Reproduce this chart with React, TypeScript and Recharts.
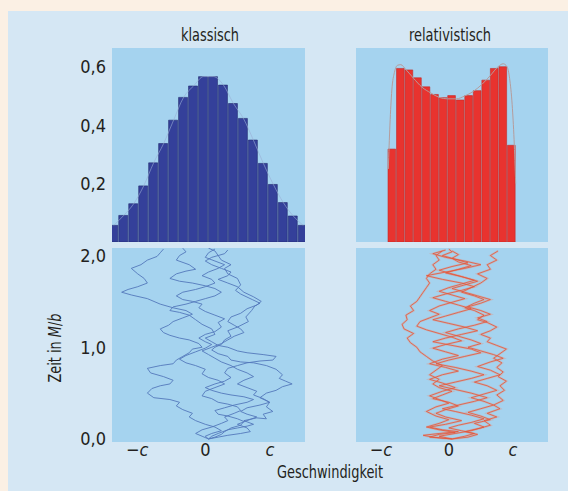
import React from 'react';
import {
  ComposedChart,
  ScatterChart,
  Scatter,
  Bar,
  Line,
  XAxis,
  YAxis,
  CartesianGrid,
} from 'recharts';

const FONT = "'Liberation Sans Narrow', 'DejaVu Sans Condensed', 'Roboto', sans-serif";
const PAGE_BG = '#fbf0e4';
const PANEL_BG = '#d5e7f4';
const PLOT_BG = '#a5d3ef';
const TEXT = '#231f20';

// histogram heights
const classicBinWidth = 0.155;
const classicHeights = [
  0.057, 0.091, 0.131, 0.192, 0.271, 0.337, 0.417, 0.495, 0.534, 0.566,
  0.566, 0.537, 0.474, 0.423, 0.349, 0.269, 0.197, 0.135, 0.089, 0.057,
];
const relBinWidth = 2 / 15;
const relHeights = [
  0.318, 0.594, 0.589, 0.562, 0.531, 0.505, 0.494, 0.501, 0.486, 0.501,
  0.518, 0.554, 0.594, 0.6, 0.331,
];
// thin theory curve over the red histogram
const relCurveX = [
  -0.995, -0.97, -0.94, -0.9, -0.85, -0.8, -0.72, -0.6, -0.47, -0.33, -0.2, -0.07,
  0.07, 0.2, 0.33, 0.47, 0.6, 0.72, 0.8, 0.86, 0.9, 0.94, 0.97, 0.995,
];
const relCurveY = [
  0.25, 0.4, 0.52, 0.58, 0.605, 0.607, 0.59, 0.56, 0.53, 0.51, 0.495, 0.49,
  0.49, 0.5, 0.515, 0.54, 0.57, 0.6, 0.61, 0.6, 0.56, 0.47, 0.35, 0.2,
];

const histTicks = [0.2, 0.4, 0.6];
const timeTicks = [0, 1, 2];
const speedTicks = [-1, 0, 1];

// random walks [velocity in c, time in M/b]
const walkB1: [number, number][] = [
  [0, 0], [0.05, 0.03], [0.15, 0.06], [0.3, 0.1], [0.45, 0.12], [0.6, 0.14], [0.7, 0.16], [0.55, 0.2],
  [0.75, 0.23], [0.9, 0.22], [0.85, 0.27], [1.0, 0.3], [0.9, 0.35], [0.95, 0.4], [0.8, 0.45], [0.9, 0.5],
  [1.05, 0.53], [1.15, 0.57], [1.3, 0.6], [1.2, 0.63], [1.1, 0.66], [1.15, 0.7], [1.05, 0.76], [0.9, 0.8],
  [0.7, 0.83], [0.5, 0.84], [0.35, 0.86], [0.3, 0.9], [0.15, 0.93], [0.05, 0.97], [0.1, 1.0], [0.2, 1.03],
  [0.25, 1.08], [0.35, 1.12], [0.3, 1.18], [0.45, 1.22], [0.62, 1.28], [0.58, 1.33], [0.67, 1.4], [0.72, 1.45],
  [0.8, 1.48], [0.68, 1.52], [0.5, 1.58], [0.42, 1.62], [0.5, 1.68], [0.45, 1.75], [0.3, 1.8], [0.25, 1.86],
  [0.35, 1.9], [0.2, 1.95], [0.15, 2.0], [0.1, 2.05], [0.0, 2.08],
];
const walkB2: [number, number][] = [
  [0, 0], [-0.05, 0.03], [0.05, 0.06], [0.2, 0.09], [0.1, 0.13], [-0.05, 0.16], [-0.2, 0.2], [-0.3, 0.24],
  [-0.25, 0.28], [-0.4, 0.32], [-0.5, 0.36], [-0.45, 0.4], [-0.6, 0.43], [-0.85, 0.45], [-0.95, 0.5], [-0.88, 0.55],
  [-0.75, 0.58], [-0.6, 0.6], [-0.55, 0.64], [-0.7, 0.68], [-0.9, 0.72], [-0.95, 0.77], [-0.75, 0.8], [-0.55, 0.82],
  [-0.5, 0.86], [-0.4, 0.9], [-0.3, 0.94], [-0.25, 0.98], [-0.1, 1.0], [-0.15, 1.04], [-0.3, 1.08], [-0.45, 1.1],
  [-0.6, 1.13], [-0.7, 1.16], [-0.75, 1.2], [-0.62, 1.24], [-0.55, 1.28], [-0.4, 1.32], [-0.25, 1.36], [-0.35, 1.4],
  [-0.55, 1.43], [-0.75, 1.47], [-0.95, 1.53], [-1.2, 1.57], [-1.35, 1.6], [-1.25, 1.63], [-1.1, 1.66], [-0.95, 1.7],
  [-1.0, 1.75], [-1.1, 1.8], [-1.2, 1.86], [-1.05, 1.9], [-0.95, 1.95], [-0.8, 1.99], [-0.75, 2.03], [-0.7, 2.07],
];
const walkB3: [number, number][] = [
  [0, 0], [0.1, 0.02], [0.2, 0.05], [0.25, 0.08], [0.35, 0.12], [0.5, 0.15], [0.55, 0.19], [0.45, 0.22],
  [0.3, 0.25], [0.15, 0.27], [0.1, 0.31], [0.25, 0.34], [0.4, 0.37], [0.6, 0.4], [0.7, 0.43], [0.55, 0.46],
  [0.35, 0.48], [0.2, 0.5], [0.05, 0.53], [-0.05, 0.56], [0.1, 0.6], [0.25, 0.63], [0.35, 0.67], [0.25, 0.72],
  [0.3, 0.77], [0.45, 0.8], [0.6, 0.83], [0.8, 0.85], [1.0, 0.86], [1.05, 0.9], [0.85, 0.92], [0.6, 0.94],
  [0.45, 0.96], [0.3, 1.0], [0.15, 1.02], [0.05, 1.06], [-0.05, 1.1], [0.1, 1.14], [0.05, 1.2], [-0.1, 1.25],
  [-0.2, 1.3], [-0.3, 1.35], [-0.45, 1.38], [-0.6, 1.4], [-0.55, 1.44], [-0.35, 1.47], [-0.2, 1.5], [-0.05, 1.53],
  [0.1, 1.56], [0.2, 1.6], [0.1, 1.64], [-0.05, 1.67], [-0.25, 1.7], [-0.45, 1.72], [-0.6, 1.75], [-0.5, 1.8],
  [-0.35, 1.83], [-0.2, 1.85], [-0.3, 1.9], [-0.5, 1.95], [-0.45, 2.0], [-0.35, 2.04], [-0.4, 2.08],
];
const walkB4: [number, number][] = [
  [0, 0], [-0.1, 0.03], [-0.2, 0.06], [-0.1, 0.1], [0.05, 0.13], [0.2, 0.17], [0.3, 0.2], [0.25, 0.24],
  [0.4, 0.28], [0.5, 0.31], [0.45, 0.35], [0.3, 0.38], [0.15, 0.4], [0.05, 0.44], [-0.1, 0.47], [-0.05, 0.52],
  [0.1, 0.56], [0.25, 0.6], [0.15, 0.64], [0.0, 0.67], [-0.1, 0.71], [-0.05, 0.76], [-0.2, 0.8], [-0.35, 0.83],
  [-0.45, 0.87], [-0.35, 0.91], [-0.2, 0.95], [-0.05, 0.99], [0.05, 1.03], [-0.05, 1.06], [-0.15, 1.1], [-0.05, 1.14],
  [0.1, 1.17], [0.2, 1.22], [0.15, 1.27], [0.25, 1.31], [0.1, 1.35], [-0.05, 1.39], [-0.15, 1.43], [-0.1, 1.47],
  [-0.25, 1.5], [-0.4, 1.52], [-0.5, 1.56], [-0.4, 1.6], [-0.2, 1.63], [-0.05, 1.66], [0.1, 1.7], [0.05, 1.74],
  [-0.1, 1.78], [0.0, 1.82], [0.15, 1.86], [0.25, 1.9], [0.1, 1.94], [-0.05, 1.98], [0.0, 2.03], [0.1, 2.07],
];
const walkB5: [number, number][] = [
  [0, 0], [0.15, 0.02], [0.3, 0.04], [0.5, 0.06], [0.65, 0.08], [0.6, 0.12], [0.45, 0.16], [0.6, 0.2],
  [0.75, 0.24], [0.6, 0.27], [0.5, 0.3], [0.6, 0.34], [0.8, 0.37], [0.95, 0.4], [0.85, 0.44], [0.7, 0.48],
  [0.75, 0.52], [0.6, 0.56], [0.45, 0.6], [0.55, 0.64], [0.7, 0.68], [0.6, 0.72], [0.45, 0.76], [0.35, 0.8],
  [0.2, 0.84], [0.1, 0.88], [0.0, 0.92], [-0.1, 0.96], [0.05, 1.0], [0.2, 1.04], [0.3, 1.08], [0.4, 1.12],
  [0.55, 1.16], [0.5, 1.2], [0.4, 1.24], [0.3, 1.28], [0.35, 1.33], [0.5, 1.37], [0.6, 1.42], [0.75, 1.46],
  [0.82, 1.5], [0.7, 1.55], [0.55, 1.6], [0.45, 1.66], [0.3, 1.7], [0.15, 1.74], [0.3, 1.78], [0.35, 1.82],
  [0.2, 1.86], [0.05, 1.9], [-0.05, 1.94], [0.05, 1.98], [0.25, 2.02], [0.3, 2.06],
];

const walkR1: [number, number][] = [
  [0, 0], [0.25, 0.02], [0.4, 0.05], [0.2, 0.08], [0.45, 0.12], [0.6, 0.15], [0.5, 0.2], [0.7, 0.24],
  [0.55, 0.28], [0.75, 0.33], [0.65, 0.37], [0.8, 0.42], [0.7, 0.48], [0.82, 0.53], [0.75, 0.58], [0.85, 0.63],
  [0.72, 0.68], [0.8, 0.73], [0.7, 0.78], [0.78, 0.83], [0.65, 0.88], [0.75, 0.93], [0.85, 0.98], [0.7, 1.02],
  [0.55, 1.06], [0.6, 1.1], [0.45, 1.14], [0.6, 1.18], [0.7, 1.22], [0.55, 1.27], [0.4, 1.3], [0.5, 1.35],
  [0.35, 1.4], [0.2, 1.43], [0.35, 1.48], [0.5, 1.52], [0.35, 1.56], [0.15, 1.6], [0.3, 1.65], [0.45, 1.7],
  [0.55, 1.75], [0.4, 1.8], [0.6, 1.85], [0.55, 1.9], [0.7, 1.95], [0.6, 2.0], [0.72, 2.05],
];
const walkR2: [number, number][] = [
  [0, 0], [-0.3, 0.02], [-0.45, 0.04], [-0.2, 0.06], [0.1, 0.08], [-0.15, 0.1], [-0.35, 0.13], [-0.1, 0.16],
  [0.15, 0.2], [-0.1, 0.24], [-0.25, 0.28], [-0.1, 0.32], [0.1, 0.36], [-0.05, 0.4], [-0.3, 0.44], [-0.15, 0.48],
  [0.0, 0.52], [-0.2, 0.56], [-0.3, 0.6], [-0.2, 0.65], [-0.35, 0.7], [-0.25, 0.75], [-0.15, 0.8], [-0.3, 0.85],
  [-0.4, 0.9], [-0.5, 0.95], [-0.55, 1.0], [-0.65, 1.05], [-0.7, 1.1], [-0.6, 1.15], [-0.75, 1.2], [-0.78, 1.25],
  [-0.7, 1.3], [-0.72, 1.35], [-0.6, 1.4], [-0.65, 1.45], [-0.55, 1.5], [-0.5, 1.55], [-0.45, 1.6], [-0.4, 1.65],
  [-0.35, 1.7], [-0.4, 1.75], [-0.35, 1.8], [-0.25, 1.85], [-0.3, 1.9], [-0.2, 1.95], [-0.25, 2.0], [-0.15, 2.05],
];
const walkR3: [number, number][] = [
  [0, 0], [0.2, 0.03], [0.35, 0.06], [0.15, 0.09], [-0.05, 0.12], [0.1, 0.15], [0.3, 0.18], [0.5, 0.22],
  [0.3, 0.26], [0.05, 0.3], [-0.15, 0.33], [0.1, 0.37], [0.35, 0.41], [0.55, 0.45], [0.3, 0.5], [0.05, 0.54],
  [-0.2, 0.58], [0.05, 0.62], [0.3, 0.66], [0.5, 0.7], [0.3, 0.74], [0.05, 0.78], [-0.25, 0.82], [-0.05, 0.86],
  [0.2, 0.9], [0.45, 0.94], [0.3, 0.98], [0.0, 1.02], [-0.3, 1.06], [-0.1, 1.1], [0.15, 1.14], [0.4, 1.18],
  [0.2, 1.22], [-0.05, 1.26], [-0.3, 1.3], [-0.1, 1.34], [0.1, 1.38], [0.3, 1.42], [0.1, 1.46], [-0.1, 1.5],
  [-0.3, 1.54], [-0.1, 1.58], [0.15, 1.62], [0.35, 1.66], [0.15, 1.7], [-0.15, 1.74], [-0.4, 1.78], [-0.1, 1.82],
  [0.2, 1.86], [0.45, 1.9], [0.2, 1.94], [-0.1, 1.98], [-0.3, 2.02], [-0.1, 2.06],
];
const walkR4: [number, number][] = [
  [0, 0], [-0.2, 0.03], [0.05, 0.06], [0.3, 0.09], [0.5, 0.13], [0.35, 0.17], [0.6, 0.21], [0.45, 0.25],
  [0.25, 0.29], [0.45, 0.33], [0.65, 0.37], [0.5, 0.41], [0.3, 0.45], [0.5, 0.49], [0.7, 0.53], [0.55, 0.58],
  [0.35, 0.62], [0.55, 0.66], [0.75, 0.7], [0.6, 0.75], [0.4, 0.79], [0.6, 0.84], [0.8, 0.88], [0.65, 0.92],
  [0.45, 0.96], [0.25, 1.0], [0.45, 1.04], [0.3, 1.08], [0.1, 1.12], [-0.1, 1.16], [0.1, 1.2], [0.35, 1.24],
  [0.55, 1.28], [0.4, 1.32], [0.6, 1.36], [0.45, 1.4], [0.25, 1.44], [0.45, 1.48], [0.6, 1.52], [0.4, 1.56],
  [0.2, 1.6], [0.0, 1.64], [0.2, 1.68], [0.4, 1.72], [0.2, 1.76], [0.0, 1.8], [-0.2, 1.84], [0.0, 1.88],
  [0.25, 1.92], [0.05, 1.96], [-0.15, 2.0], [0.0, 2.04], [-0.05, 2.07],
];
const walkR5: [number, number][] = [
  [0, 0], [-0.35, 0.02], [-0.2, 0.05], [0.05, 0.07], [-0.2, 0.1], [-0.4, 0.13], [-0.2, 0.17], [-0.05, 0.21],
  [-0.25, 0.25], [-0.4, 0.3], [-0.25, 0.35], [-0.05, 0.39], [-0.2, 0.43], [-0.35, 0.47], [-0.15, 0.52], [0.05, 0.56],
  [-0.15, 0.61], [-0.35, 0.65], [-0.15, 0.7], [0.1, 0.74], [-0.1, 0.78], [-0.35, 0.82], [-0.15, 0.87], [0.1, 0.91],
  [-0.1, 0.95], [-0.3, 0.99], [-0.1, 1.03], [0.15, 1.07], [0.0, 1.11], [-0.2, 1.15], [-0.4, 1.19], [-0.55, 1.23],
  [-0.5, 1.28], [-0.35, 1.32], [-0.2, 1.36], [-0.35, 1.4], [-0.2, 1.45], [0.0, 1.49], [0.2, 1.53], [0.0, 1.57],
  [-0.2, 1.61], [-0.05, 1.65], [0.15, 1.69], [0.35, 1.73], [0.15, 1.77], [-0.1, 1.81], [0.1, 1.85], [0.3, 1.89],
  [0.1, 1.93], [0.0, 1.97], [0.1, 2.01], [0.0, 2.05],
];

const classicWalks = [walkB1, walkB2, walkB3, walkB4, walkB5];
const relWalks = [walkR1, walkR2, walkR3, walkR4, walkR5];

const X_DOMAIN: [number, number] = [-1.5, 1.5];
const HIST_DOMAIN: [number, number] = [0, 0.664];
const TIME_DOMAIN: [number, number] = [-0.033, 2.082];

const classicData = classicHeights.map((h, i) => ({
  x: (i - (classicHeights.length - 1) / 2) * classicBinWidth,
  h,
}));
const relData = relHeights.map((h, i) => ({
  x: (i - (relHeights.length - 1) / 2) * relBinWidth,
  h,
}));
const relCurve = relCurveX.map((x, i) => ({ x, h: relCurveY[i] }));
const toPoints = (w: [number, number][]) => w.map(([x, t]) => ({ x, t }));

const comma = (v: number) => v.toFixed(1).replace('.', ',');

const SpeedTick = (props: any) => {
  const { x, y, payload } = props;
  const v = payload.value;
  return (
    <text
      x={x}
      y={y}
      dy={14}
      dx={v < 0 ? -7 : -3}
      textAnchor="middle"
      fontSize={18}
      fontFamily={FONT}
      fill={TEXT}
    >
      {v === 0 ? '0' : (
        <>
          {v < 0 ? '−' : ''}
          <tspan fontStyle="italic">c</tspan>
        </>
      )}
    </text>
  );
};

const yTick = { fontSize: 18, fill: TEXT, fontFamily: FONT };

const noDot = () => <g />;

const App: React.FC = () => {
  const leftPlotW = 193;
  const rightPlotW = 192;
  const span = X_DOMAIN[1] - X_DOMAIN[0];

  return (
    <div style={{ position: 'absolute', left: 0, top: 0, width: 568, height: 491, background: PAGE_BG, overflow: 'hidden' }}>
      <div style={{ position: 'absolute', left: 8, top: 11, width: 560, height: 480, background: PANEL_BG }} />

      {/* top left: classical histogram */}
      <div style={{ position: 'absolute', left: 0, top: 0 }}>
        <ComposedChart width={320} height={250} data={classicData} margin={{ top: 48, right: 15, bottom: 8, left: 72 }} barCategoryGap={0} barGap={0}>
          <CartesianGrid horizontal={false} vertical={false} fill={PLOT_BG} stroke="none" />
          <XAxis dataKey="x" type="number" domain={X_DOMAIN} allowDataOverflow hide />
          <YAxis type="number" domain={HIST_DOMAIN} ticks={histTicks} tickFormatter={comma} axisLine={false} tickLine={false} tickSize={0} tickMargin={6} width={40} tick={yTick} allowDataOverflow />
          <Bar dataKey="h" fill="#34409a" stroke="#232a6e" strokeWidth={0.6} barSize={(classicBinWidth * leftPlotW) / span} isAnimationActive={false} />
          <Line dataKey="h" type="monotone" stroke="#9aaed6" strokeWidth={1} strokeOpacity={0.6} dot={false} activeDot={false} isAnimationActive={false} />
        </ComposedChart>
      </div>

      {/* top right: relativistic histogram */}
      <div style={{ position: 'absolute', left: 340, top: 0 }}>
        <ComposedChart width={228} height={250} data={relData} margin={{ top: 48, right: 20, bottom: 8, left: 16 }} barCategoryGap={0} barGap={0}>
          <CartesianGrid horizontal={false} vertical={false} fill={PLOT_BG} stroke="none" />
          <XAxis dataKey="x" type="number" domain={X_DOMAIN} allowDataOverflow hide />
          <YAxis type="number" domain={HIST_DOMAIN} allowDataOverflow hide />
          <Bar dataKey="h" fill="#e8332f" stroke="#c22a27" strokeWidth={0.6} barSize={(relBinWidth * rightPlotW) / span} isAnimationActive={false} />
        </ComposedChart>
      </div>
      {/* theory curve, same frame as the red histogram */}
      <div style={{ position: 'absolute', left: 340, top: 0 }}>
        <ComposedChart width={228} height={250} data={relCurve} margin={{ top: 48, right: 20, bottom: 8, left: 16 }}>
          <XAxis dataKey="x" type="number" domain={X_DOMAIN} allowDataOverflow hide />
          <YAxis type="number" domain={HIST_DOMAIN} allowDataOverflow hide />
          <Line dataKey="h" type="monotone" stroke="#b59c9c" strokeWidth={1} dot={false} activeDot={false} isAnimationActive={false} />
        </ComposedChart>
      </div>

      {/* bottom left: classical walks */}
      <div style={{ position: 'absolute', left: 0, top: 240 }}>
        <ScatterChart width={320} height={230} margin={{ top: 8, right: 15, bottom: 4, left: 72 }}>
          <CartesianGrid horizontal={false} vertical={false} fill={PLOT_BG} stroke="none" />
          <XAxis dataKey="x" type="number" domain={X_DOMAIN} ticks={speedTicks} interval={0} tick={<SpeedTick />} axisLine={false} tickLine={false} tickSize={0} tickMargin={0} height={24} allowDataOverflow />
          <YAxis dataKey="t" type="number" domain={TIME_DOMAIN} ticks={timeTicks} interval={0} tickFormatter={comma} axisLine={false} tickLine={false} tickSize={0} tickMargin={6} width={40} tick={yTick} allowDataOverflow />
          {classicWalks.map((w, i) => (
            <Scatter key={i} data={toPoints(w)} fill="#5478bb" line={{ stroke: '#5478bb', strokeWidth: 0.9 }} shape={noDot} isAnimationActive={false} />
          ))}
        </ScatterChart>
      </div>

      {/* bottom right: relativistic walks */}
      <div style={{ position: 'absolute', left: 340, top: 240 }}>
        <ScatterChart width={228} height={230} margin={{ top: 8, right: 20, bottom: 4, left: 16 }}>
          <CartesianGrid horizontal={false} vertical={false} fill={PLOT_BG} stroke="none" />
          <XAxis dataKey="x" type="number" domain={X_DOMAIN} ticks={speedTicks} interval={0} tick={<SpeedTick />} axisLine={false} tickLine={false} tickSize={0} tickMargin={0} height={24} allowDataOverflow />
          <YAxis dataKey="t" type="number" domain={TIME_DOMAIN} allowDataOverflow hide />
          {relWalks.map((w, i) => (
            <Scatter key={'h' + i} data={toPoints(w)} fill="#c3b4b9" line={{ stroke: '#c3b4b9', strokeWidth: 2.2, strokeOpacity: 0.85 }} shape={noDot} isAnimationActive={false} />
          ))}
          {relWalks.map((w, i) => (
            <Scatter key={'r' + i} data={toPoints(w)} fill="#e4553a" line={{ stroke: '#e4553a', strokeWidth: 0.8 }} shape={noDot} isAnimationActive={false} />
          ))}
        </ScatterChart>
      </div>

      {/* titles and axis labels */}
      <svg width={568} height={491} style={{ position: 'absolute', left: 0, top: 0, pointerEvents: 'none' }}>
        <g fontFamily={FONT} fill={TEXT} fontSize={18}>
          <text x={210} y={41} textAnchor="middle" textLength={58} lengthAdjust="spacingAndGlyphs">klassisch</text>
          <text x={450} y={41} textAnchor="middle" textLength={82} lengthAdjust="spacingAndGlyphs">relativistisch</text>
          <text x={330} y={478} textAnchor="middle" textLength={106} lengthAdjust="spacingAndGlyphs">Geschwindigkeit</text>
          <text transform="translate(61,348) rotate(-90)" textAnchor="middle" textLength={69} lengthAdjust="spacingAndGlyphs">
            Zeit in <tspan fontStyle="italic">M</tspan>/<tspan fontStyle="italic">b</tspan>
          </text>
        </g>
      </svg>
    </div>
  );
};

export default App;
